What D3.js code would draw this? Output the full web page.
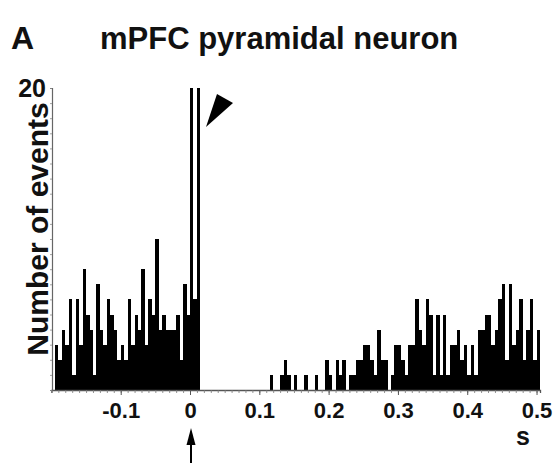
<!DOCTYPE html>
<html>
<head>
<meta charset="utf-8">
<script src="https://cdn.jsdelivr.net/npm/d3@7"></script>
<style>
  html, body { margin: 0; padding: 0; background: #fff; }
  svg { display: block; }
  text { font-family: "Liberation Sans", Arial, sans-serif; font-weight: bold; fill: #111; }
</style>
</head>
<body>
<svg id="chart" width="555" height="463"></svg>
<script>
// ---- data ----
const binStart = -0.195;          // left edge of first bin (s)
const binWidth = 0.005;           // 5 ms bins
// counts for bins before the event (-0.195 .. 0)
const countsBefore = [3,2,4,3,6,1,6,3,8,5,4,1,7,4,3,6,5,4,2,3,
                      2,6,3,5,4,8,3,6,5,10,4,5,4,4,4,5,2,7,5];
// counts for bins after the event (0 .. 0.505)
const countsAfter = [20,6,20,0,0,0,0,0,0,0,0,0,0,0,0,0,0,0,0,0,
                     0,0,0,1,0,0,1,2,1,0,1,0,0,1,0,0,1,0,0,2,
                     1,0,2,1,2,0,1,1,2,2,3,3,2,1,4,2,2,0,1,3,
                     3,2,1,3,3,6,4,3,6,5,1,5,1,5,1,3,3,4,2,3,
                     1,3,1,4,4,5,5,3,4,6,7,2,7,3,4,6,2,4,6,2,4];
const xTicks = [-0.1, 0, 0.1, 0.2, 0.3, 0.4, 0.5];
const xTickLabels = ["-0.1", "0", "0.1", "0.2", "0.3", "0.4", "0.5"];
const yMax = 20;
const yTickLabel = "20";
const titleText = "mPFC pyramidal neuron";
const panelLabel = "A";
const yTitle = "Number of events";
const xUnit = "s";

// ---- build bins ----
const counts = countsBefore.concat(countsAfter);
const bins = counts.map((c, i) => ({ x0: binStart + i * binWidth, x1: binStart + (i + 1) * binWidth, n: c }));

const svg = d3.select("#chart");
const x = d3.scaleLinear().domain([-0.2, 0.505]).range([51.4, 540]);
const y = d3.scaleLinear().domain([0, yMax]).range([390, 88]).clamp(true);

// bars
svg.append("g").selectAll("rect").data(bins.filter(d => d.n > 0)).join("rect")
  .attr("x", d => x(d.x0))
  .attr("width", d => x(d.x1) - x(d.x0))
  .attr("y", d => y(d.n))
  .attr("height", d => y(0) - y(d.n))
  .attr("fill", "#000")
  .attr("shape-rendering", "crispEdges");

// x axis: minor ticks
const minor = d3.range(-20, 51).map(i => i / 100);
const gxMinor = svg.append("g").attr("transform", "translate(0,390)")
  .call(d3.axisBottom(x).tickValues(minor).tickSize(3).tickFormat(""));
gxMinor.select(".domain").attr("stroke", "#555").attr("stroke-width", 1.3);
gxMinor.selectAll(".tick line").attr("stroke", "#777").attr("stroke-width", 0.8);

// x axis: major ticks and labels
const gx = svg.append("g").attr("transform", "translate(0,390)")
  .call(d3.axisBottom(x).tickValues(xTicks).tickSize(5)
        .tickFormat((d, i) => xTickLabels[i]));
gx.select(".domain").remove();
gx.selectAll(".tick line").attr("stroke", "#555").attr("stroke-width", 1);
gx.selectAll(".tick text")
  .attr("y", 27.5).attr("dy", 0)
  .style("font-size", "22px").style("font-family", "'Liberation Sans', Arial, sans-serif")
  .style("font-weight", "bold").attr("fill", "#111");

// y axis
const gy = svg.append("g").attr("transform", "translate(52,0)")
  .call(d3.axisLeft(y).tickValues(d3.range(0, 21)).tickSize(2).tickFormat(""));
gy.select(".domain").attr("stroke", "#666").attr("stroke-width", 1.2);
gy.selectAll(".tick line").attr("stroke", "#888").attr("stroke-width", 0.8);

svg.append("text").attr("x", 46).attr("y", y(yMax) + 9)
  .attr("text-anchor", "end").style("font-size", "25px").text(yTickLabel);

// y title
svg.append("text")
  .attr("transform", `translate(48,229) rotate(-90)`)
  .attr("text-anchor", "middle").style("font-size", "30px").text(yTitle);

// titles
svg.append("text").attr("x", 11).attr("y", 49).style("font-size", "32px").text(panelLabel);
svg.append("text").attr("x", 100).attr("y", 49).style("font-size", "31px").text(titleText);

// unit label
svg.append("text").attr("x", 523).attr("y", 445).attr("text-anchor", "middle")
  .style("font-size", "25px").text(xUnit);

// arrowhead marker near the peak
svg.append("path")
  .attr("d", "M217,94 L233,103 L206,127 Z")
  .attr("fill", "#000");

// event arrow under 0
const ax = x(0) + 1;
svg.append("line").attr("x1", ax).attr("x2", ax).attr("y1", 440).attr("y2", 463)
  .attr("stroke", "#000").attr("stroke-width", 2);
svg.append("path")
  .attr("d", `M${ax},428 L${ax + 4.5},445 L${ax - 4.5},445 Z`)
  .attr("fill", "#000");
</script>
</body>
</html>
